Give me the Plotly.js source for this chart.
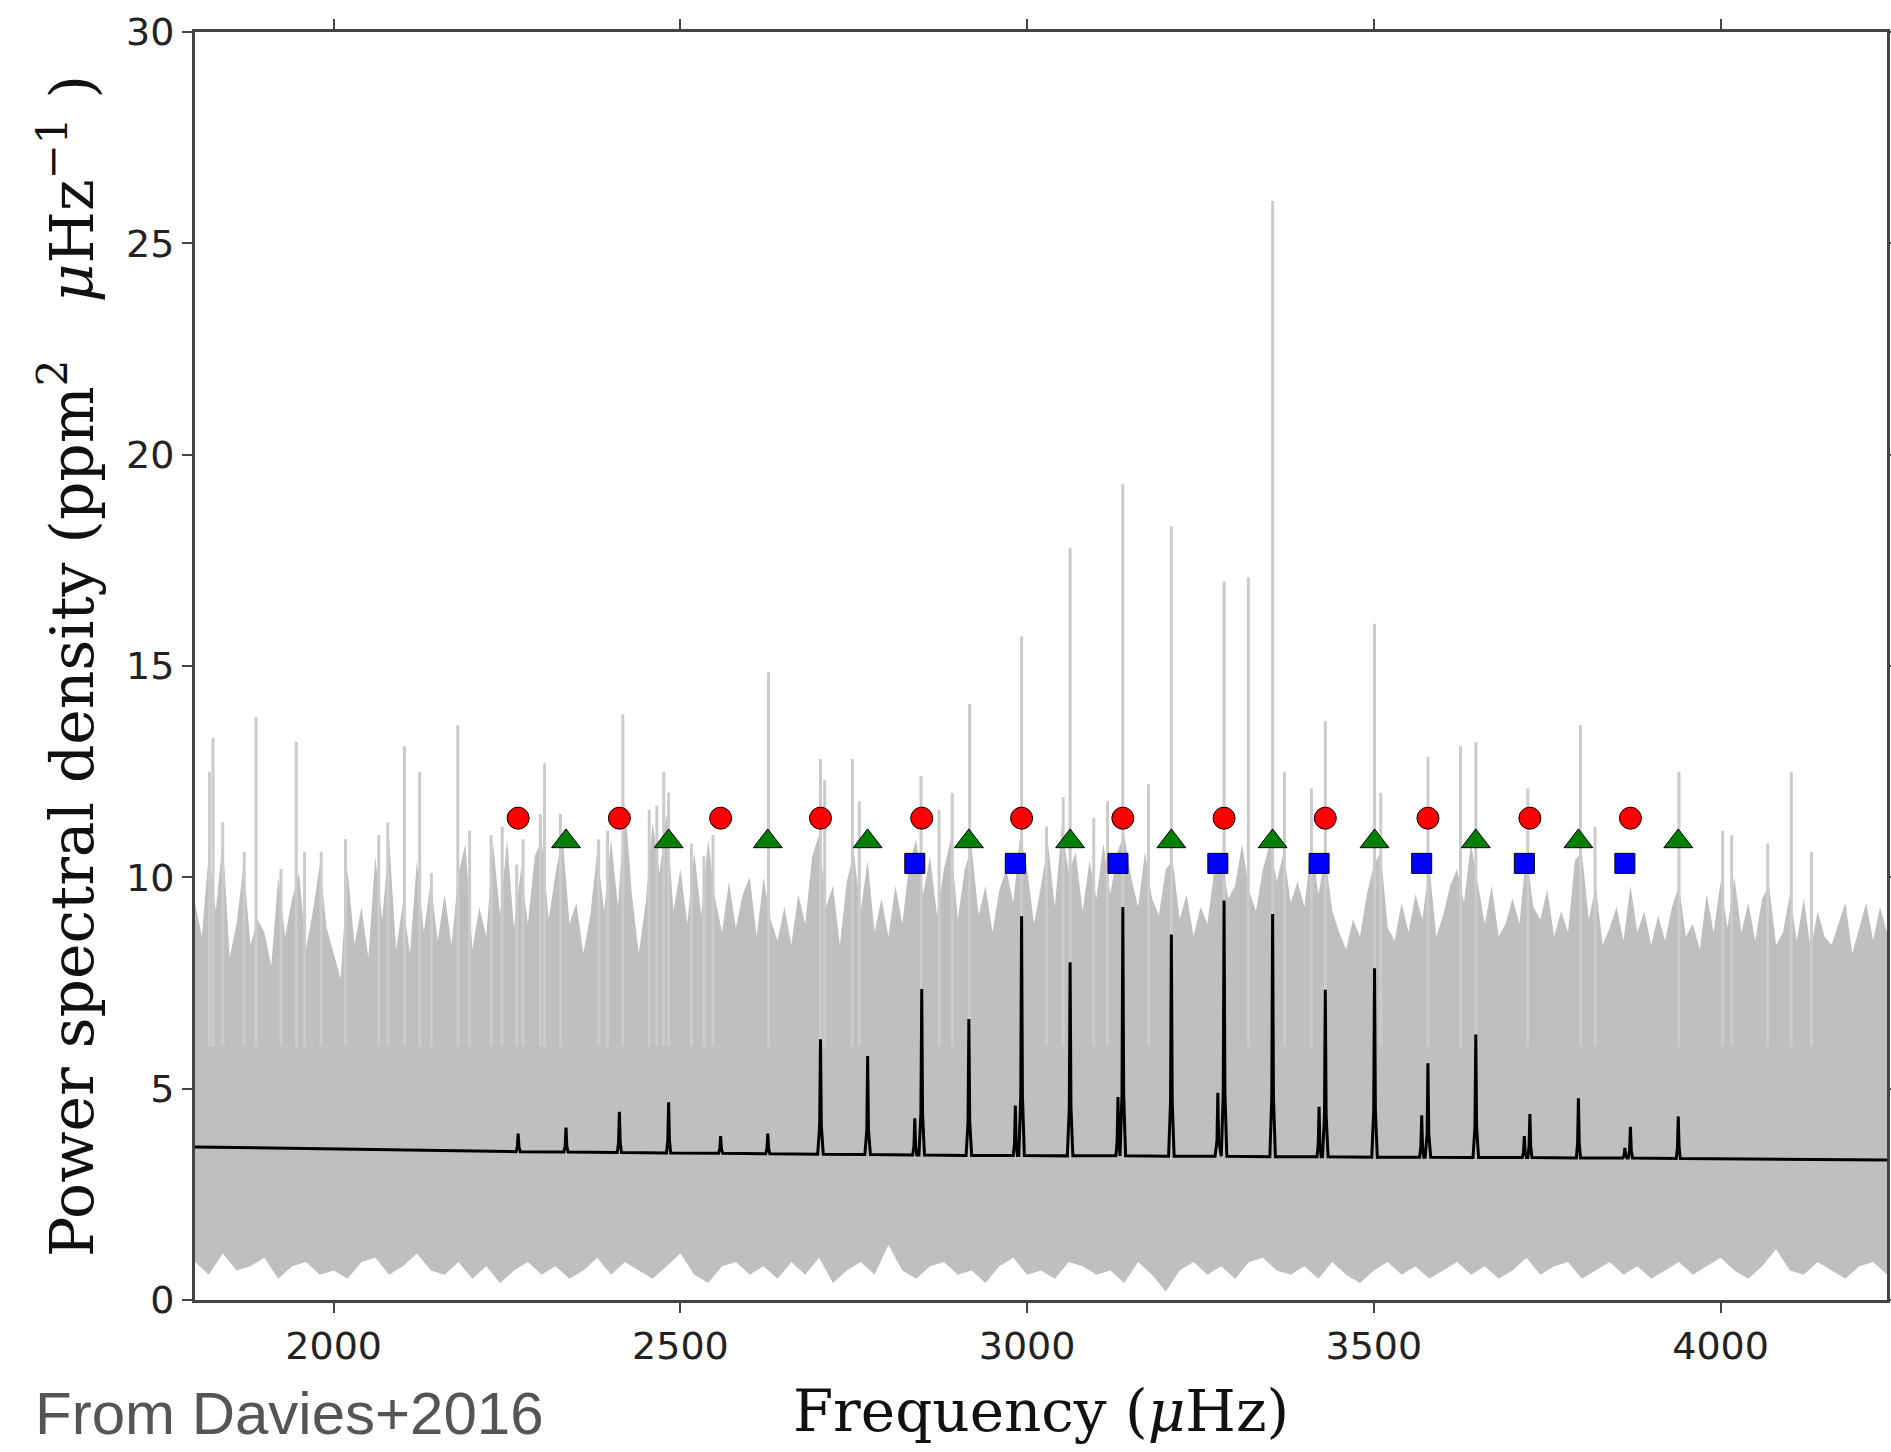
<!DOCTYPE html>
<html>
<head>
<meta charset="utf-8">
<script src="https://cdn.plot.ly/plotly-3.0.1.min.js"></script>
<style>
  html, body { margin: 0; padding: 0; background: #ffffff; }
  #chart { width: 1891px; height: 1452px; }
</style>
</head>
<body>
<div id="chart"></div>
<script>
// ---------------- data ----------------
// Observed power spectrum: upper edge of the dense grey band (10 µHz grid from 1800 µHz)
const psdStart = 1800;
const psdStep = 10;
const psdUpper = [
  9.4, 8.6, 10.6, 9.2, 10.9, 8.1, 8.9, 10.3, 8.4, 9.0,
  8.7, 7.9, 10.0, 8.6, 9.5, 10.1, 8.3, 9.2, 10.3, 8.8,
  8.2, 7.6, 10.2, 8.4, 9.3, 8.1, 10.5, 9.0, 10.9, 8.3,
  9.4, 8.2, 10.4, 8.7, 9.9, 8.5, 9.6, 8.4, 10.1, 10.8,
  8.3, 9.3, 8.6, 10.8, 9.1, 10.9, 8.8, 10.2, 8.9, 10.5,
  10.9, 9.0, 10.1, 11.0, 8.9, 9.4, 8.2, 9.1, 10.6, 9.2,
  10.9, 9.3, 11.8, 9.6, 8.2, 9.4, 11.3, 10.1, 11.5, 9.2,
  10.2, 8.9, 10.6, 9.1, 10.9, 9.5, 8.7, 9.9, 8.8, 9.6,
  10.0, 8.6, 10.0, 9.0, 8.5, 9.3, 8.4, 9.6, 8.9, 10.5,
  11.0, 9.3, 9.8, 8.4, 9.9, 10.6, 9.2, 10.4, 8.7, 9.5,
  8.6, 9.8, 8.9, 10.3, 10.9, 9.6, 10.5, 9.1, 10.2, 10.9,
  9.0, 10.2, 10.7, 9.1, 9.8, 8.7, 9.7, 10.2, 9.4, 11.0,
  10.2, 8.9, 9.8, 10.8, 9.3, 11.2, 10.1, 10.6, 9.2, 10.4,
  9.5, 10.8, 9.6, 10.6, 11.0, 10.0, 9.3, 10.6, 9.5, 9.1,
  10.2, 10.4, 9.0, 9.6, 8.6, 9.3, 8.9, 10.2, 10.6, 9.5,
  9.8, 10.8, 9.7, 9.2, 10.2, 10.8, 9.9, 10.6, 9.4, 9.9,
  9.3, 10.8, 9.6, 10.5, 9.2, 8.7, 8.3, 9.0, 8.6, 9.6,
  10.3, 10.6, 8.8, 8.5, 9.4, 8.7, 9.6, 9.0, 10.3, 8.6,
  9.1, 9.8, 10.2, 9.4, 10.8, 9.8, 8.9, 9.8, 8.6, 8.9,
  9.5, 8.9, 10.6, 9.3, 9.0, 9.7, 8.6, 9.2, 8.7, 10.4,
  10.6, 9.0, 9.8, 8.4, 8.8, 9.3, 8.5, 9.8, 8.7, 9.2,
  8.4, 9.1, 8.5, 9.3, 9.8, 8.6, 8.9, 8.3, 9.6, 8.7,
  9.9, 8.8, 10.0, 8.7, 9.4, 8.5, 9.5, 9.8, 8.4, 8.7,
  9.6, 8.5, 9.5, 8.3, 9.2, 8.6, 8.4, 8.9, 9.4, 8.2,
  8.8, 9.4, 8.5, 9.3, 8.7
];
// Lower edge of the grey band (20 µHz grid from 1800 µHz)
const lowStep = 20;
const psdLower = [
  0.9, 0.6, 1.1, 0.7, 0.8, 1.0, 0.5, 0.8, 0.9, 0.6,
  0.7, 0.5, 0.9, 1.0, 0.6, 0.8, 1.1, 0.7, 0.6, 0.9,
  0.5, 0.8, 0.4, 0.7, 0.9, 0.6, 0.8, 0.5, 0.7, 1.0,
  0.6, 0.9, 0.7, 0.5, 0.8, 1.1, 0.6, 0.4, 0.8, 0.9,
  0.6, 0.8, 0.5, 0.9, 0.6, 1.0, 0.4, 0.7, 0.9, 0.6,
  1.3, 0.7, 0.5, 0.8, 0.9, 0.6, 0.7, 0.4, 0.8, 1.0,
  0.6, 0.7, 0.5, 0.9, 0.8, 0.6, 0.7, 0.4, 0.9, 0.6,
  0.2, 0.7, 0.9, 0.6, 0.8, 0.5, 0.9, 1.0, 0.7, 0.6,
  0.8, 0.5, 0.9, 0.6, 0.4, 0.7, 0.9, 0.6, 0.8, 0.5,
  0.7, 0.9, 0.6, 0.8, 0.5, 0.7, 1.0, 0.6, 0.8, 0.9,
  0.5, 0.7, 0.9, 0.6, 0.8, 0.5, 0.7, 0.9, 0.6, 0.8,
  1.0, 0.7, 0.5, 0.8, 1.2, 0.7, 0.6, 0.9, 0.7, 0.5,
  0.8, 0.9, 0.6
];
// Individual tall spikes of the observed spectrum
const spikeFreq = [
  1821, 1826, 1840, 1871, 1888, 1924, 1946, 1958, 1982, 2017,
  2065, 2078, 2102, 2124, 2141, 2179, 2196, 2227, 2243, 2264,
  2273, 2298, 2304, 2327, 2382, 2395, 2417, 2455, 2466, 2476,
  2483, 2516, 2534, 2547, 2627, 2702, 2708, 2748, 2758, 2847,
  2873, 2892, 2917, 2992, 3028, 3052, 3062, 3096, 3116, 3138,
  3175, 3208, 3284, 3319, 3354, 3371, 3410, 3430, 3501, 3510,
  3578, 3625, 3647, 3722, 3798, 3819, 3940, 4003, 4016, 4068,
  4102, 4131
];
const spikeHeight = [
  12.5, 13.3, 11.3, 10.6, 13.8, 10.2, 13.2, 10.6, 10.6, 10.9,
  11.0, 11.3, 13.1, 12.5, 10.1, 13.6, 11.1, 11.0, 11.2, 10.3,
  10.9, 11.5, 12.7, 11.5, 10.9, 11.1, 13.85, 11.6, 11.7, 12.5,
  12.0, 10.8, 10.5, 11.0, 14.85, 12.8, 12.3, 12.8, 11.8, 12.4,
  11.6, 12.0, 14.1, 15.7, 11.2, 11.9, 17.8, 11.4, 11.8, 19.3,
  12.2, 18.3, 17.0, 17.1, 26.0, 12.5, 12.1, 13.7, 16.0, 12.0,
  12.85, 13.1, 13.2, 12.1, 13.6, 11.2, 12.5, 11.1, 11.0, 10.8,
  12.5, 10.6
];
// Fitted model (black line): background at the ends, and each mode peak
const bgFreq = [1800, 4240];
const bgPower = [3.62, 3.31];
const modeFreq = [
  2266, 2335, 2412, 2483, 2558, 2626, 2702, 2770, 2838, 2848,
  2916, 2983, 2992, 3062, 3131, 3138, 3208, 3275, 3284, 3354,
  3421, 3430, 3501, 3569, 3578, 3647, 3717, 3725, 3795, 3862,
  3870, 3939
];
const modeHeight = [
  3.94, 4.08, 4.45, 4.68, 3.88, 3.94, 6.17, 5.77, 4.30, 7.36,
  6.65, 4.60, 9.08, 7.99, 4.80, 9.30, 8.65, 4.90, 9.45, 9.13,
  4.57, 7.34, 7.85, 4.37, 5.60, 6.28, 3.88, 4.40, 4.77, 3.60,
  4.10, 4.34
];
const modeBase = [
  3.51, 3.50, 3.49, 3.48, 3.47, 3.46, 3.45, 3.44, 3.43, 3.43,
  3.42, 3.42, 3.42, 3.41, 3.41, 3.41, 3.40, 3.40, 3.40, 3.39,
  3.39, 3.39, 3.38, 3.38, 3.38, 3.37, 3.37, 3.37, 3.36, 3.36,
  3.36, 3.35
];
// Identified modes (marker rows)
const l0Freq = [2266, 2412, 2558, 2702, 2848, 2992, 3138, 3284, 3430, 3578, 3725, 3870];
const l1Freq = [2335, 2483, 2626, 2770, 2916, 3062, 3208, 3354, 3501, 3647, 3795, 3939];
const l2Freq = [2838, 2983, 3131, 3275, 3421, 3569, 3717, 3862];
const l0Level = 11.4;
const l1Level = 10.85;
const l2Level = 10.33;
// Axis ticks
const xTicks = [2000, 2500, 3000, 3500, 4000];
const yTicks = [0, 5, 10, 15, 20, 25, 30];

// ---------------- build traces ----------------
const upX = psdUpper.map((_, i) => psdStart + i * psdStep);
const lowX = psdLower.map((_, i) => psdStart + i * lowStep);
const bandX = upX.concat(lowX.slice().reverse());
const bandY = psdUpper.concat(psdLower.slice().reverse());

const band = {
  x: bandX, y: bandY, type: 'scatter', mode: 'lines',
  fill: 'toself', fillcolor: '#bfbfbf',
  line: {width: 0, color: '#bfbfbf'}, hoverinfo: 'skip'
};

const sx = [], sy = [];
spikeFreq.forEach((f, i) => { sx.push(f, f, null); sy.push(6, spikeHeight[i], null); });
const spikes = {
  x: sx, y: sy, type: 'scatter', mode: 'lines',
  line: {width: 3, color: '#cbcbcb'}, hoverinfo: 'skip'
};

// model line: background ends joined through each peak
const mx = [bgFreq[0]], my = [bgPower[0]];
modeFreq.forEach((f, i) => {
  const b = modeBase[i], h = modeHeight[i];
  const w = (h - b) < 1.5 ? 3 : 4;
  mx.push(f - w, f - 1.2, f, f + 1.2, f + w);
  my.push(b, b + 0.25 * (h - b), h, b + 0.25 * (h - b), b);
});
mx.push(bgFreq[1]); my.push(bgPower[1]);
const model = {
  x: mx, y: my, type: 'scatter', mode: 'lines',
  line: {width: 3, color: '#000000'}, hoverinfo: 'skip'
};

const mk = (xs, lvl, sym, col, size) => ({
  x: xs, y: xs.map(() => lvl), type: 'scatter', mode: 'markers',
  marker: {symbol: sym, color: col, size: size, line: {color: '#000000', width: 1}},
  hoverinfo: 'skip'
});
const l0 = mk(l0Freq, l0Level, 'circle', '#ff0000', 22);
const l1 = mk(l1Freq, l1Level, 'triangle-up', '#007f00', 25);
const l2 = mk(l2Freq, l2Level, 'square', '#0000ff', 20);

const axisCommon = {
  showline: true, linewidth: 3, linecolor: '#444444', mirror: 'ticks',
  ticks: 'outside', ticklen: 10, tickwidth: 2, tickcolor: '#444444',
  showgrid: false, zeroline: false,
  tickfont: {family: 'DejaVu Sans', size: 38, color: '#222222'}
};

const layout = {
  width: 1891, height: 1452,
  margin: {l: 195, r: 4, t: 32, b: 152},
  paper_bgcolor: '#ffffff', plot_bgcolor: '#ffffff',
  showlegend: false,
  xaxis: Object.assign({}, axisCommon, {
    range: [1800, 4240], tickvals: xTicks, ticktext: xTicks.map(String),
    title: {text: 'Frequency (<i>μ</i>Hz)', font: {family: 'DejaVu Serif', size: 58, color: '#111111'}, standoff: 24}
  }),
  yaxis: Object.assign({}, axisCommon, {
    range: [0, 30], tickvals: yTicks, ticktext: yTicks.map(String),
    title: {text: 'Power spectral density (ppm<sup>2</sup>\u00a0\u00a0\u00a0<i>μ</i>Hz<sup>−1</sup>\u00a0)', font: {family: 'DejaVu Serif', size: 60, color: '#111111'}, standoff: 14}
  }),
  annotations: [{
    text: 'From Davies+2016', xref: 'paper', yref: 'paper',
    x: -0.0957, y: -0.0895, xanchor: 'left', yanchor: 'middle',
    showarrow: false, font: {family: 'Liberation Sans', size: 60, color: '#555555'}
  }]
};

Plotly.newPlot('chart', [band, spikes, model, l0, l1, l2], layout, {staticPlot: true});
</script>
</body>
</html>
